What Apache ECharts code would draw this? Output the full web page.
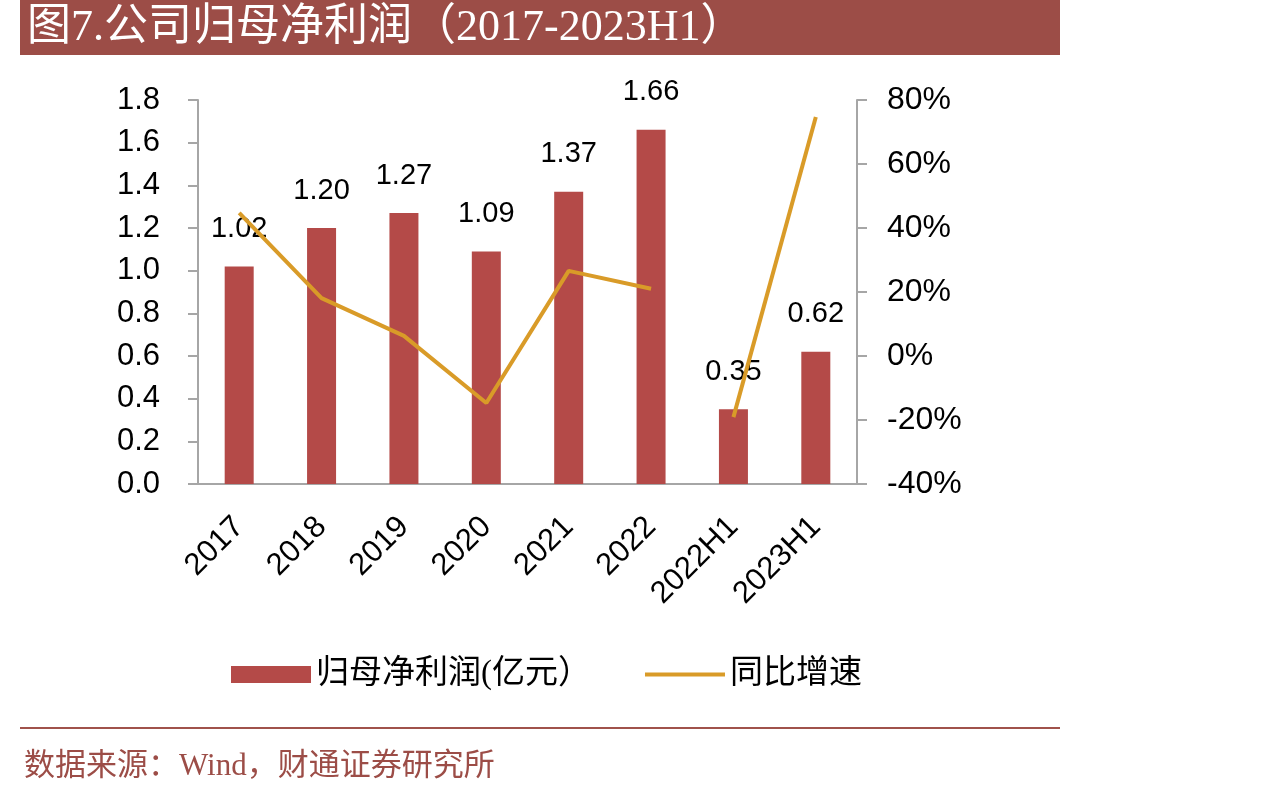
<!DOCTYPE html>
<html>
<head>
<meta charset="utf-8">
<script src="https://cdn.jsdelivr.net/npm/echarts@6/dist/echarts.min.js"></script>
<style>
  html, body { margin: 0; padding: 0; background: #fff; }
  #chart { width: 1274px; height: 796px; }
</style>
</head>
<body>
<div id="chart"></div>
<script>
const categories = ['2017', '2018', '2019', '2020', '2021', '2022', '2022H1', '2023H1']
const profit = [1.02, 1.20, 1.27, 1.09, 1.37, 1.66, 0.35, 0.62]
// 同比增速 (%), annual part and half-year part drawn as separate segments
const growthYear = [44.7, 18.1, 6.3, -14.7, 26.6, 21.0, null, null]
const growthHalf = [null, null, null, null, null, null, -19.1, 74.7]

const leftTicks = { min: 0, max: 1.8, interval: 0.2 }
const rightTicks = { min: -40, max: 80, interval: 20 }

const sans = 'Liberation Sans, Arial, sans-serif'
const serif = '"Liberation Serif", "Noto Sans CJK SC", serif'
const cjk = '"Liberation Serif", "Noto Sans CJK SC", sans-serif'
const axisGray = '#a6a6a6'
const lineColor = '#d99b28'

const chart = echarts.init(document.getElementById('chart'))

chart.setOption({
  animation: false,
  backgroundColor: '#fff',
  graphic: [
    {
      type: 'rect',
      shape: { x: 20, y: 0, width: 1040, height: 55 },
      style: { fill: '#9c4d47' }
    },
    {
      type: 'text',
      x: 27,
      y: 28,
      style: {
        text: '图7.公司归母净利润（2017-2023H1）',
        fill: '#fff',
        font: '44px ' + serif,
        verticalAlign: 'middle'
      }
    },
    {
      type: 'rect',
      shape: { x: 20, y: 727, width: 1040, height: 2 },
      style: { fill: '#a0524b' }
    },
    {
      type: 'text',
      x: 24,
      y: 767,
      style: {
        text: '数据来源：Wind，财通证券研究所',
        fill: '#9c4d47',
        font: '31px ' + serif,
        verticalAlign: 'middle'
      }
    }
  ],
  legend: {
    left: 226,
    top: 653,
    itemWidth: 80,
    itemHeight: 17,
    itemGap: 54,
    textStyle: { fontSize: 33, fontFamily: cjk, color: '#000' },
    data: [
      { name: '归母净利润(亿元）', icon: 'rect' },
      { name: '同比增速', icon: 'path://M0,0 M80,17 M0,6.5 L80,6.5 L80,10.5 L0,10.5 Z' }
    ]
  },
  grid: {
    left: 198,
    right: 417,
    top: 100,
    bottom: 312
  },
  xAxis: {
    type: 'category',
    data: categories,
    axisLine: { lineStyle: { color: axisGray, width: 2 } },
    axisTick: { show: false },
    axisLabel: {
      rotate: 45,
      margin: 38,
      color: '#000',
      fontSize: 31,
      fontFamily: sans
    }
  },
  yAxis: [
    {
      type: 'value',
      min: leftTicks.min,
      max: leftTicks.max,
      interval: leftTicks.interval,
      axisLine: { show: true, lineStyle: { color: axisGray, width: 2 } },
      axisTick: { show: true, length: 10, lineStyle: { color: axisGray, width: 2 } },
      splitLine: { show: false },
      axisLabel: {
        margin: 38,
        color: '#000',
        fontSize: 31,
        fontFamily: sans,
        formatter: v => v.toFixed(1)
      }
    },
    {
      type: 'value',
      position: 'right',
      min: rightTicks.min,
      max: rightTicks.max,
      interval: rightTicks.interval,
      axisLine: { show: true, lineStyle: { color: axisGray, width: 2 } },
      axisTick: { show: true, length: 10, lineStyle: { color: axisGray, width: 2 } },
      splitLine: { show: false },
      axisLabel: {
        margin: 30,
        color: '#000',
        fontSize: 32,
        fontFamily: sans,
        formatter: '{value}%'
      }
    }
  ],
  series: [
    {
      name: '归母净利润(亿元）',
      type: 'bar',
      barWidth: 29,
      data: profit,
      itemStyle: { color: '#b44a48' },
      label: {
        show: true,
        position: 'top',
        distance: 23,
        color: '#000',
        fontSize: 29,
        fontFamily: sans,
        formatter: p => p.value.toFixed(2)
      }
    },
    {
      name: '同比增速',
      type: 'line',
      yAxisIndex: 1,
      symbol: 'none',
      z: 5,
      data: growthYear,
      itemStyle: { color: lineColor },
      lineStyle: { color: lineColor, width: 4 }
    },
    {
      name: '同比增速',
      type: 'line',
      yAxisIndex: 1,
      symbol: 'none',
      z: 5,
      data: growthHalf,
      itemStyle: { color: lineColor },
      lineStyle: { color: lineColor, width: 4 }
    }
  ]
})
</script>
</body>
</html>
